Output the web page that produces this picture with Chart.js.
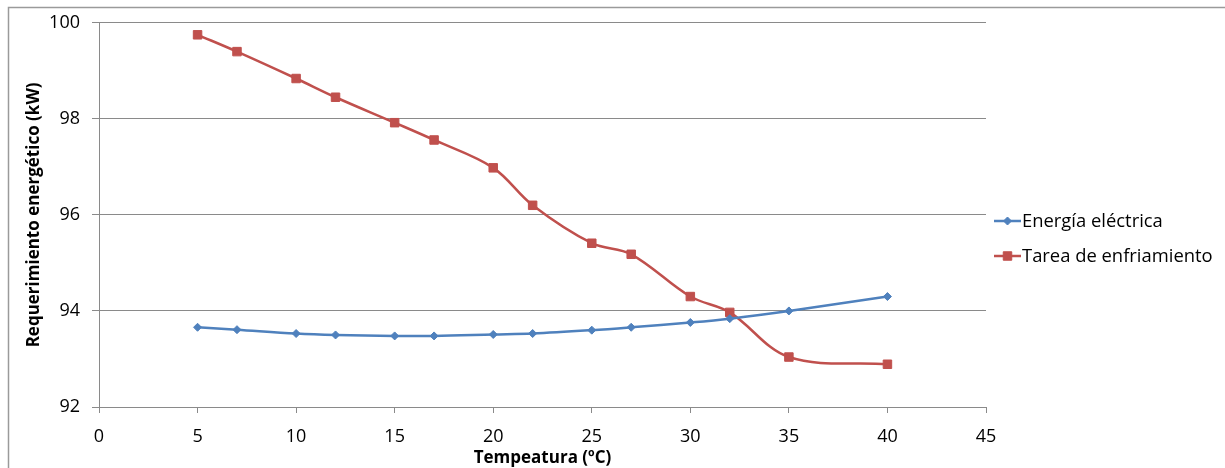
<!DOCTYPE html>
<html>
<head>
<meta charset="utf-8">
<script src="https://cdn.jsdelivr.net/npm/chart.js@4/dist/chart.umd.min.js"></script>
<style>
  html, body { margin: 0; padding: 0; background: #ffffff; }
  #wrap { width: 1225px; height: 468px; position: relative; }
</style>
</head>
<body>
<div id="wrap"><canvas id="chart" width="1225" height="468"></canvas></div>
<script>
// Temperature (ºC)
const temperatura = [5, 7, 10, 12, 15, 17, 20, 22, 25, 27, 30, 32, 35, 40];
// Electrical energy (kW)
const energiaElectrica = [93.66, 93.61, 93.53, 93.50, 93.48, 93.48, 93.51, 93.53, 93.60, 93.66, 93.76, 93.84, 94.00, 94.30];
// Cooling duty (kW)
const tareaEnfriamiento = [99.75, 99.40, 98.84, 98.45, 97.92, 97.56, 96.98, 96.20, 95.41, 95.18, 94.30, 93.97, 93.04, 92.89];

const xTicks = [0, 5, 10, 15, 20, 25, 30, 35, 40, 45];
const yTicks = [92, 94, 96, 98, 100];

const seriesNames = ['Energía eléctrica', 'Tarea de enfriamiento'];
const BLUE = '#4F81BD';
const RED = '#C0504D';
const GRID = '#8a8a8a';
const FONT = '"Open Sans", Lato, sans-serif';

const toPoints = (xs, ys) => xs.map((x, i) => ({ x: x, y: ys[i] }));

// Frame around the chart object
const framePlugin = {
  id: 'frame',
  beforeDraw(chart) {
    const ctx = chart.ctx;
    ctx.save();
    ctx.fillStyle = '#ffffff';
    ctx.fillRect(0, 0, chart.width, chart.height);
    ctx.strokeStyle = '#9a9a9a';
    ctx.lineWidth = 1.5;
    ctx.beginPath();
    ctx.moveTo(8.5, chart.height);
    ctx.lineTo(8.5, 7.5);
    ctx.lineTo(chart.width, 7.5);
    ctx.stroke();
    ctx.restore();
  }
};

// Legend on the right: a line sample with the series marker, then the name
const lineLegendPlugin = {
  id: 'lineLegend',
  afterDraw(chart) {
    const ctx = chart.ctx;
    const x0 = 994, x1 = 1021;
    const rows = [221, 256];
    ctx.save();
    chart.data.datasets.forEach((ds, i) => {
      const y = rows[i];
      ctx.strokeStyle = ds.borderColor;
      ctx.lineWidth = 2.5;
      ctx.beginPath();
      ctx.moveTo(x0, y);
      ctx.lineTo(x1, y);
      ctx.stroke();
      ctx.fillStyle = ds.backgroundColor;
      ctx.strokeStyle = ds.borderColor;
      ctx.lineWidth = 1;
      Chart.helpers.drawPoint(ctx, { pointStyle: ds.pointStyle, radius: ds.pointRadius, borderWidth: 1 }, (x0 + x1) / 2, y);
      ctx.fillStyle = '#000000';
      ctx.font = '18.4px ' + FONT;
      ctx.textBaseline = 'middle';
      ctx.textAlign = 'left';
      ctx.fillText(ds.label, x1 + 1, y + 1);
    });
    ctx.restore();
  }
};

new Chart(document.getElementById('chart'), {
  type: 'line',
  data: {
    datasets: [
      {
        label: seriesNames[0],
        data: toPoints(temperatura, energiaElectrica),
        borderColor: BLUE,
        backgroundColor: BLUE,
        borderWidth: 2.5,
        pointStyle: 'rectRot',
        pointRadius: 4,
        pointBorderWidth: 1,
        tension: 0.35,
        fill: false
      },
      {
        label: seriesNames[1],
        data: toPoints(temperatura, tareaEnfriamiento),
        borderColor: RED,
        backgroundColor: RED,
        borderWidth: 2.5,
        pointStyle: 'rect',
        pointRadius: 6,
        pointBorderWidth: 1,
        tension: 0.35,
        fill: false
      }
    ]
  },
  options: {
    responsive: false,
    animation: false,
    layout: { padding: { left: 0, top: 20, right: 239, bottom: 0 } },
    plugins: {
      legend: { display: false },
      tooltip: { enabled: false }
    },
    scales: {
      x: {
        type: 'linear',
        min: 0,
        max: 45,
        afterBuildTicks(scale) { scale.ticks = xTicks.map(v => ({ value: v })); },
        afterFit(scale) { scale.height = 61; },
        border: { color: GRID, width: 1 },
        grid: { drawOnChartArea: false, drawTicks: true, tickLength: 6, color: GRID },
        ticks: { color: '#000000', font: { family: FONT, size: 18 }, padding: 13, maxRotation: 0 },
        title: {
          display: true,
          text: 'Tempeatura (ºC)',
          color: '#000000',
          font: { family: FONT, size: 17, weight: 'bold' },
          padding: { top: 0, bottom: 0 }
        }
      },
      y: {
        type: 'linear',
        min: 92,
        max: 100,
        afterBuildTicks(scale) { scale.ticks = yTicks.map(v => ({ value: v })); },
        afterFit(scale) { scale.width = 99; },
        border: { color: GRID, width: 1 },
        grid: { drawOnChartArea: true, drawTicks: true, tickLength: 7, color: GRID },
        ticks: { color: '#000000', font: { family: FONT, size: 18 }, padding: 12 },
        title: {
          display: true,
          text: 'Requerimiento energético (kW)',
          color: '#000000',
          font: { family: FONT, size: 17, weight: 'bold' },
          padding: { top: 24, bottom: 0 }
        }
      }
    }
  },
  plugins: [framePlugin, lineLegendPlugin]
});
</script>
</body>
</html>
